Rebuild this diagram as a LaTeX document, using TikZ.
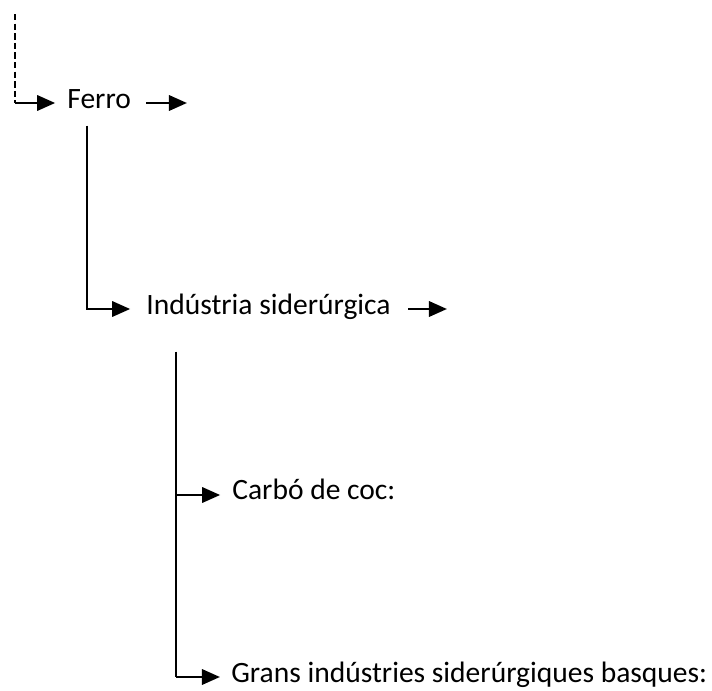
\documentclass[tikz,border=0pt]{standalone}
\usepackage{fontspec}
\setmainfont{Carlito}
\usetikzlibrary{arrows.meta,calc}

\begin{document}
\begin{tikzpicture}[x=0.025cm,y=-0.025cm,
  line width=0.068cm,
  every node/.style={font=\fontsize{21}{25}\selectfont},
  item/.style={anchor=west, inner sep=0pt, text height=0.62em, text depth=0pt},
  arr/.style={-{Triangle[length=0.45cm,width=0.38cm]}},
  dashline/.style={line width=0.05cm, dash pattern=on 0.16cm off 0.08cm}]
\useasboundingbox (0,0) rectangle (712,691);
\node[item] (ferro) at (66,104) {Ferro};
\node[item] (ind) at (145,310) {Indústria siderúrgica};
\node[item] (carbo) at (231,495) {Carbó de coc:};
\node[item] (grans) at (230,678) {Grans indústries siderúrgiques basques:};
\coordinate (origen) at (15,14);
\coordinate (cant0) at (15,103);
\coordinate (cant1) at (87,309);
\coordinate (cant2) at (176,677);
\coordinate (fi1) at (187,103);
\coordinate (fi2) at (447,309);
\draw[dashline] (origen) -- (cant0);
\draw[arr,shorten >=0.27cm] (cant0) -- (cant0 -| ferro.west);
\draw[arr,shorten <=0.35cm] (ferro.east |- fi1) -- (fi1);
\draw[arr,shorten >=0.37cm] ($(cant1 |- ferro.south)+(0,16)$) -- (cant1) -- (cant1 -| ind.west);
\draw[arr,shorten <=0.4cm] (ind.east |- fi2) -- (fi2);
\draw ($(cant2 |- ind.south)+(0,36)$) -- (cant2);
\draw[arr,shorten >=0.27cm] (cant2 |- carbo.west) -- (carbo.west);
\draw[arr,shorten >=0.25cm] (cant2) -- (cant2 -| grans.west);
\end{tikzpicture}
\end{document}
